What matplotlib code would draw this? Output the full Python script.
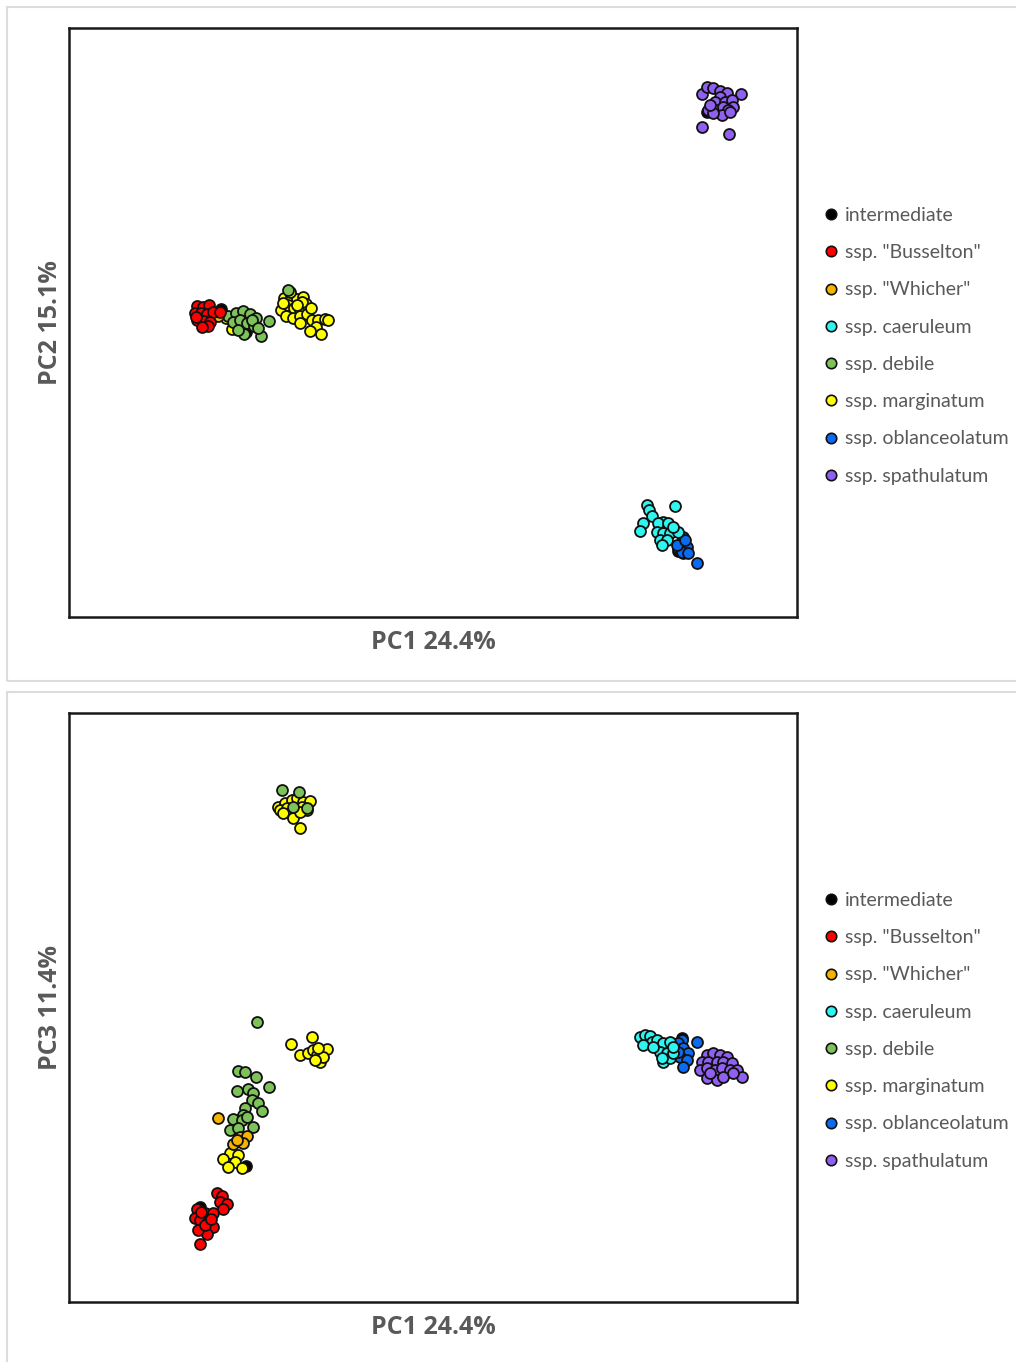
import numpy as np
from matplotlib import pyplot as plt
from matplotlib.patches import Rectangle
from matplotlib.lines import Line2D

plt.rcParams['font.family'] = ['Lato', 'DejaVu Sans']

groups = ['intermediate', 'ssp. "Busselton"', 'ssp. "Whicher"', 'ssp. caeruleum',
          'ssp. debile', 'ssp. marginatum', 'ssp. oblanceolatum', 'ssp. spathulatum']
colors = ['#000000', '#FF0000', '#F5B400', '#2EF5F0',
          '#7DC35A', '#FFFF00', '#0A6BF0', '#9060F0']

# PCA scores (arbitrary units)
pc12 = {
    'intermediate': [(-212, 13), (-187, -10), (245, -229), (250, -231), (274, 210)],
    'ssp. "Busselton"': [(-236, 16), (-230, 15), (-224, 17), (-238, 9), (-232, 9), (-226, 8),
                         (-220, 10), (-236, 2), (-229, 1), (-223, 0), (-237, 5), (-225, -4),
                         (-231, -5), (-213, 10)],
    'ssp. "Whicher"': [(-215, 6)],
    'ssp. debile': [(-205, 6), (-197, 9), (-190, 11), (-183, 8), (-177, 4), (-200, 0),
                    (-193, 2), (-186, -1), (-179, -4), (-172, -14), (-189, -12), (-195, -8),
                    (-181, 2), (-164, 1), (-175, -6), (-145, 32)],
    'ssp. marginatum': [(-207, 4), (-201, -7), (-195, -2), (-190, -5), (-185, 0), (-197, 4),
                        (-149, 24), (-142, 26), (-136, 23), (-130, 25), (-152, 12), (-145, 17),
                        (-139, 14), (-133, 12), (-127, 18), (-147, 6), (-140, 4), (-133, 6),
                        (-126, 8), (-121, 2), (-115, 2), (-108, 3), (-117, -5), (-123, -9),
                        (-112, -12), (-133, -1), (-131, 20), (-150, 19), (-122, 14), (-105, 2),
                        (-136, 17), (-143, 30)],
    'ssp. caeruleum': [(214, -183), (216, -188), (219, -194), (210, -201), (207, -209),
                       (242, -184), (230, -200), (225, -201), (235, -201), (224, -210),
                       (230, -211), (237, -211), (227, -218), (234, -218), (229, -223),
                       (245, -210), (240, -205)],
    'ssp. oblanceolatum': [(250, -215), (249, -221), (254, -225), (245, -226), (249, -230),
                           (255, -231), (264, -241), (244, -223), (252, -218)],
    'ssp. spathulatum': [(269, 228), (274, 235), (280, 234), (287, 231), (294, 229), (308, 228),
                         (287, 225), (282, 220), (292, 220), (299, 222), (300, 215), (275, 212),
                         (284, 212), (290, 215), (295, 212), (289, 207), (280, 209), (269, 195),
                         (296, 188), (277, 217), (297, 210)],
}

pc13 = {
    'intermediate': [(-128, 201), (-187, -159), (-233, -200), (249, -31)],
    'ssp. "Busselton"': [(-216, -186), (-211, -189), (-213, -195), (-206, -197), (-210, -202),
                         (-236, -202), (-238, -211), (-228, -206), (-220, -206), (-233, -213),
                         (-225, -215), (-220, -220), (-230, -223), (-226, -227), (-233, -237),
                         (-235, -223), (-228, -218), (-232, -205), (-222, -212)],
    'ssp. "Whicher"': [(-215, -111), (-193, -130), (-186, -129), (-200, -137), (-190, -136),
                       (-196, -133)],
    'ssp. debile': [(-151, 217), (-134, 215), (-140, 200), (-126, 199), (-176, -15),
                    (-195, -64), (-188, -65), (-177, -70), (-164, -80), (-196, -84), (-185, -82),
                    (-180, -86), (-181, -93), (-175, -96), (-171, -104), (-188, -101),
                    (-190, -108), (-200, -112), (-191, -113), (-180, -120), (-203, -123),
                    (-195, -121), (-186, -110)],
    'ssp. marginatum': [(-155, 200), (-148, 204), (-141, 207), (-136, 209), (-130, 205),
                        (-123, 206), (-153, 197), (-146, 199), (-131, 200), (-126, 197),
                        (-143, 194), (-150, 194), (-140, 189), (-133, 179), (-133, 195),
                        (-142, -37), (-121, -30), (-133, -48), (-125, -46), (-120, -43),
                        (-116, -48), (-113, -55), (-106, -42), (-110, -50), (-118, -53),
                        (-115, -41), (-203, -146), (-195, -148), (-210, -152), (-198, -155),
                        (-205, -160), (-191, -161)],
    'ssp. caeruleum': [(207, -30), (212, -28), (217, -29), (219, -35), (210, -38), (224, -33),
                       (230, -36), (237, -35), (227, -45), (234, -46), (230, -55), (237, -51),
                       (229, -51), (240, -46), (240, -40), (220, -40)],
    'ssp. oblanceolatum': [(249, -33), (245, -36), (264, -35), (250, -41), (255, -46),
                           (247, -50), (254, -53), (250, -60), (245, -45)],
    'ssp. spathulatum': [(274, -48), (280, -46), (287, -48), (294, -50), (269, -55), (275, -55),
                         (284, -55), (290, -55), (299, -56), (267, -63), (274, -61), (282, -63),
                         (289, -61), (297, -63), (304, -63), (309, -70), (274, -71), (284, -73),
                         (290, -70), (277, -66), (300, -66)],
}

# intermediate samples sit underneath the others in the picture
draw_order = ['intermediate', 'ssp. spathulatum', 'ssp. oblanceolatum', 'ssp. caeruleum',
              'ssp. marginatum', 'ssp. debile', 'ssp. "Whicher"', 'ssp. "Busselton"']

W, H = 1016, 1362
fig = plt.figure(figsize=(W / 100, H / 100), dpi=100)

# light gray panel frames
for y0, y1 in [(7, 681), (692, 1370)]:
    fig.patches.append(Rectangle((7 / W, 1 - y1 / H), (W + 10) / W, (y1 - y0) / H,
                                 transform=fig.transFigure, fill=False,
                                 edgecolor='#DCDCDC', linewidth=1.5))

gray = '#595959'
label_font = dict(fontsize=18, fontweight='bold', color=gray,
                  family=['Open Sans', 'DejaVu Sans'])


def panel(data, top_px, ylab, legend_top_px):
    ax = fig.add_axes([69 / W, 1 - (top_px + 589) / H, 728 / W, 589 / H])
    for g in draw_order:
        pts = np.array(data[g])
        ax.scatter(pts[:, 0], pts[:, 1], s=62, c=colors[groups.index(g)],
                   edgecolors='#111111', linewidths=1.3, zorder=3)
    ax.set_xlim(-364, 364)
    ax.set_ylim(-295, 294)
    ax.set_xticks([])
    ax.set_yticks([])
    for sp in ax.spines.values():
        sp.set_linewidth(1.8)
        sp.set_color('#1A1A1A')
    ax.set_xlabel('PC1 24.4%', labelpad=9, **label_font)
    ax.set_ylabel(ylab, labelpad=4, **label_font)

    handles = [Line2D([], [], linestyle='none', marker='o', markersize=7.5,
                      markerfacecolor=c, markeredgecolor='#111111', markeredgewidth=1.2)
               for c in colors]
    ax.legend(handles, groups, loc='upper left', frameon=False,
              bbox_to_anchor=(825 / W, 1 - legend_top_px / H), bbox_transform=fig.transFigure,
              fontsize=14, labelcolor=gray, handlelength=0.6, handletextpad=0.42,
              labelspacing=1.04, borderaxespad=0, borderpad=0)
    return ax


panel(pc12, 28, 'PC2 15.1%', 207)
panel(pc13, 713, 'PC3 11.4%', 892)

fig.savefig('out.png', dpi=100)
